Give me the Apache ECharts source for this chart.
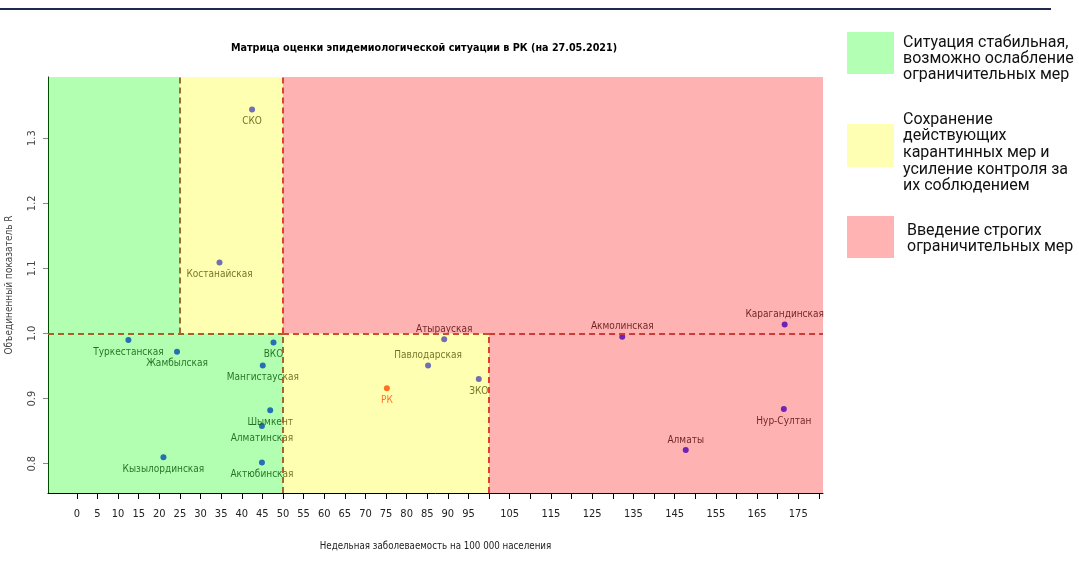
<!DOCTYPE html>
<html>
<head>
<meta charset="utf-8">
<script src="https://cdn.jsdelivr.net/npm/echarts@6/dist/echarts.min.js"></script>
<style>
html,body{margin:0;padding:0;background:#fff;}
#chart{width:1079px;height:569px;}
</style>
</head>
<body>
<div id="chart"></div>
<script>
// ---- data ----
const regionNames = ['СКО','Костанайская','Туркестанская','Жамбылская','ВКО','Мангистауская','Шымкент','Алматинская','Кызылординская','Актюбинская','Атырауская','Павлодарская','ЗКО','РК','Акмолинская','Карагандинская','Нур-Султан','Алматы'];
const weeklyIncidence = [42.5, 34.6, 12.5, 24.3, 47.7, 45.1, 46.9, 44.9, 21.0, 44.9, 89.1, 85.2, 97.5, 75.2, 132.3, 171.7, 171.5, 147.7];
const combinedR = [1.344, 1.109, 0.990, 0.972, 0.986, 0.951, 0.882, 0.858, 0.810, 0.802, 0.991, 0.951, 0.930, 0.916, 0.995, 1.014, 0.884, 0.821];
const xTickValues = [0,5,10,15,20,25,30,35,40,45,50,55,60,65,70,75,80,85,90,95,100,105,110,115,120,125,130,135,140,145,150,155,160,165,170,175,180];
const xLabelValues = [0,5,10,15,20,25,30,35,40,45,50,55,60,65,70,75,80,85,90,95,105,115,125,135,145,155,165,175];
const yLabelValues = [0.8, 0.9, 1.0, 1.1, 1.2, 1.3];
const thresholdsX = [25, 50, 100];
const thresholdR = 1.0;
const legendTexts = [
  'Ситуация стабильная,\nвозможно ослабление\nограничительных мер',
  'Сохранение\nдействующих\nкарантинных мер и\nусиление контроля за\nих соблюдением',
  'Введение строгих\nограничительных мер'
];
const titleText = 'Матрица оценки эпидемиологической ситуации в РК (на 27.05.2021)';
const xName = 'Недельная заболеваемость на 100 000 населения';
const yName = 'Объединенный показатель R';

// ---- style config ----
const X_MIN = -7, X_MAX = 181, Y_MIN = 0.755, Y_MAX = 1.394;
const labelAbove = ['Атырауская','Павлодарская','Акмолинская','Карагандинская','Алматы'];
const highlight = 'РК';
const FONT = "'Liberation Sans Narrow','Arial Narrow','DejaVu Sans Condensed','Liberation Sans',sans-serif";
const GREEN = 'rgba(0,255,0,0.3)', YELLOW = 'rgba(255,255,0,0.3)', RED = 'rgba(255,0,0,0.3)';
// dashed threshold line (red seen through the translucent zones)
const LINE_ON_GREEN = '#a2622a', LINE_ON_YELLOW = '#cc4e2c', LINE_ON_RED = '#cc3a3a';
const LINE_GREEN_YELLOW = '#9e6a30', LINE_YELLOW_RED = '#e2402e';

const pts = regionNames.map((n, i) => {
  const above = labelAbove.includes(n);
  const hl = n === highlight;
  return {
    name: n,
    value: [weeklyIncidence[i], combinedR[i]],
    itemStyle: { color: hl ? '#ff0000' : '#0000ff' },
    label: { position: above ? 'top' : 'bottom', distance: above ? 2 : 4, color: hl ? '#ff0000' : '#000000' }
  };
});

const [t1, t2, t3] = thresholdsX;
const seg = (a, b, color) => [{ coord: a, lineStyle: { color } }, { coord: b }];
const chart = echarts.init(document.getElementById('chart'), null, { renderer: 'canvas' });
chart.setOption({
  animation: false,
  backgroundColor: '#ffffff',
  title: {
    text: titleText, left: 419, top: 38, textAlign: 'center',
    textStyle: { fontFamily: FONT, fontSize: 10.7, fontWeight: 'bold', color: '#000' }
  },
  grid: { left: 48, right: 256, top: 77, bottom: 76, containLabel: false, outerBoundsMode: 'none' },
  xAxis: {
    type: 'value', min: X_MIN, max: X_MAX,
    name: xName, nameLocation: 'middle', nameGap: 48,
    nameTextStyle: { fontFamily: FONT, fontSize: 9.7, color: '#222' },
    splitLine: { show: false },
    axisLine: { show: true, onZero: false, lineStyle: { color: '#000', width: 1 } },
    axisTick: { show: true, length: 6, customValues: xTickValues, lineStyle: { color: '#000' } },
    axisLabel: { customValues: xLabelValues, margin: 16, fontFamily: FONT, fontSize: 11, color: '#222' }
  },
  yAxis: {
    type: 'value', min: Y_MIN, max: Y_MAX,
    name: yName, nameLocation: 'middle', nameGap: 34,
    nameTextStyle: { fontFamily: FONT, fontSize: 10, color: '#444' },
    splitLine: { show: false },
    axisLine: { show: true, onZero: false, lineStyle: { color: '#000', width: 1 } },
    axisTick: { show: true, length: 5, customValues: yLabelValues, lineStyle: { color: '#888' } },
    axisLabel: { customValues: yLabelValues, rotate: 90, margin: 10, fontFamily: FONT, fontSize: 11, color: '#444',
      formatter: v => v.toFixed(1) }
  },
  series: [
    {
      type: 'scatter', z: 2, silent: true,
      symbol: 'circle', symbolSize: 6,
      data: pts,
      label: { show: true, formatter: p => p.name, fontFamily: FONT, fontSize: 10 }
    },
    {
      type: 'scatter', data: [], silent: true, z: 10,
      markArea: {
        z: 10, silent: true, label: { show: false },
        data: [
          [{ coord: [X_MIN, thresholdR], itemStyle: { color: GREEN } }, { coord: [t1, Y_MAX] }],
          [{ coord: [X_MIN, Y_MIN], itemStyle: { color: GREEN } }, { coord: [t2, thresholdR] }],
          [{ coord: [t1, thresholdR], itemStyle: { color: YELLOW } }, { coord: [t2, Y_MAX] }],
          [{ coord: [t2, Y_MIN], itemStyle: { color: YELLOW } }, { coord: [t3, thresholdR] }],
          [{ coord: [t2, thresholdR], itemStyle: { color: RED } }, { coord: [X_MAX, Y_MAX] }],
          [{ coord: [t3, Y_MIN], itemStyle: { color: RED } }, { coord: [X_MAX, thresholdR] }]
        ]
      },
      markLine: {
        z: 11, silent: true, symbol: 'none', label: { show: false },
        lineStyle: { type: [6, 4], width: 2 },
        data: [
          seg([t1, thresholdR], [t1, Y_MAX], LINE_GREEN_YELLOW),
          seg([t2, thresholdR], [t2, Y_MAX], LINE_YELLOW_RED),
          seg([t2, Y_MIN], [t2, thresholdR], LINE_GREEN_YELLOW),
          seg([t3, Y_MIN], [t3, thresholdR], LINE_YELLOW_RED),
          seg([X_MIN, thresholdR], [t2, thresholdR], LINE_ON_GREEN),
          seg([t2, thresholdR], [t3, thresholdR], LINE_ON_YELLOW),
          seg([t3, thresholdR], [X_MAX, thresholdR], LINE_ON_RED)
        ]
      }
    }
  ],
  graphic: [
    { type: 'rect', left: 0, top: 8, shape: { width: 1051, height: 2 }, style: { fill: '#1f2b4d' } },
    { type: 'rect', left: 847, top: 32, shape: { width: 47, height: 42 }, style: { fill: '#b3ffb3' } },
    { type: 'rect', left: 847, top: 124, shape: { width: 47, height: 43 }, style: { fill: '#ffffb3' } },
    { type: 'rect', left: 847, top: 216, shape: { width: 47, height: 42 }, style: { fill: '#ffb3b3' } },
    { type: 'text', x: 903, y: 59, style: { text: legendTexts[0], fontFamily: 'Roboto', fontSize: 16, lineHeight: 16, fill: '#111', verticalAlign: 'middle' } },
    { type: 'text', x: 903, y: 153, style: { text: legendTexts[1], fontFamily: 'Roboto', fontSize: 16, lineHeight: 16.7, fill: '#111', verticalAlign: 'middle' } },
    { type: 'text', x: 907, y: 239, style: { text: legendTexts[2], fontFamily: 'Roboto', fontSize: 16, lineHeight: 16.7, fill: '#111', verticalAlign: 'middle' } }
  ]
});
</script>
</body>
</html>
